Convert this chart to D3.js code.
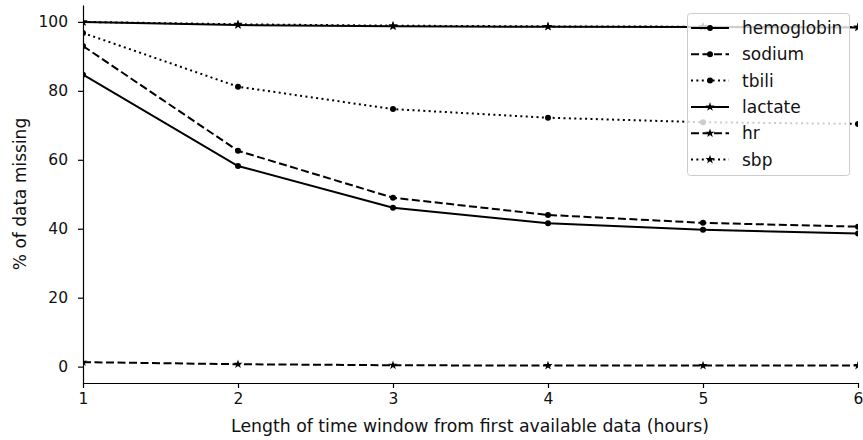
<!DOCTYPE html>
<html>
<head>
<meta charset="utf-8">
<script src="https://cdn.jsdelivr.net/npm/d3@7"></script>
<style>
  body { margin: 0; background: #fff; }
  svg { display: block; font-family: "DejaVu Sans", sans-serif; }
</style>
</head>
<body>
<div id="chart"></div>
<script>
// Data
const hours = [1, 2, 3, 4, 5, 6];
const hemoglobin = [84.7, 58.2, 46.1, 41.6, 39.7, 38.6];
const sodium = [93.0, 62.6, 49.0, 44.0, 41.7, 40.6];
const tbili = [96.8, 81.2, 74.7, 72.2, 70.9, 70.4];
const lactate = [100.0, 99.1, 98.7, 98.6, 98.5, 98.4];
const hr = [1.3, 0.7, 0.4, 0.3, 0.3, 0.3];
const sbp = [100.0, 99.3, 98.9, 98.7, 98.6, 98.5];
const xTicks = [1, 2, 3, 4, 5, 6];
const yTicks = [0, 20, 40, 60, 80, 100];

const seriesList = [
  { name: "hemoglobin", values: hemoglobin, dash: null, marker: "circle" },
  { name: "sodium", values: sodium, dash: "8,3.5", marker: "circle" },
  { name: "tbili", values: tbili, dash: "2,3.4", marker: "circle" },
  { name: "lactate", values: lactate, dash: null, marker: "star" },
  { name: "hr", values: hr, dash: "8,3.5", marker: "star" },
  { name: "sbp", values: sbp, dash: "2,3.4", marker: "star" },
];

const W = 863, H = 440;
const plot = { left: 83, right: 858, top: 5, bottom: 383 };

const svg = d3.select("#chart").append("svg")
  .attr("width", W).attr("height", H);

const x = d3.scaleLinear().domain([1, 6]).range([plot.left, plot.right]);
const y = d3.scaleLinear().domain([-4.75, 104.9]).range([plot.bottom, plot.top]);

svg.append("clipPath").attr("id", "clip")
  .append("rect")
  .attr("x", plot.left).attr("y", plot.top)
  .attr("width", plot.right - plot.left).attr("height", plot.bottom - plot.top);

const starPath = d3.symbol(d3.symbolStar, 26)();

function drawMarker(g, marker, cx, cy) {
  if (marker === "circle") {
    g.append("circle").attr("cx", cx).attr("cy", cy).attr("r", 3).attr("fill", "#000");
  } else {
    g.append("path").attr("d", starPath)
      .attr("transform", `translate(${cx},${cy})`).attr("fill", "#000");
  }
}

// Lines and markers
const linesG = svg.append("g").attr("clip-path", "url(#clip)");
const line = d3.line().x((d, i) => x(hours[i])).y(d => y(d));

seriesList.forEach(s => {
  const g = linesG.append("g");
  g.append("path")
    .attr("d", line(s.values))
    .attr("fill", "none").attr("stroke", "#000").attr("stroke-width", 2)
    .attr("stroke-dasharray", s.dash);
  s.values.forEach((v, i) => drawMarker(g, s.marker, x(hours[i]), y(v)));
});

// Axes
const xAxis = svg.append("g")
  .attr("transform", `translate(0,${plot.bottom})`)
  .call(d3.axisBottom(x).tickValues(xTicks).tickFormat(d3.format("d"))
    .tickSize(5).tickSizeOuter(0).tickPadding(5));
const yAxis = svg.append("g")
  .attr("transform", `translate(${plot.left},0)`)
  .call(d3.axisLeft(y).tickValues(yTicks).tickFormat(d3.format("d"))
    .tickSize(5).tickSizeOuter(0).tickPadding(10));

[xAxis, yAxis].forEach(a => {
  a.select(".domain").attr("stroke", "#000").attr("stroke-width", 1.2);
  a.selectAll(".tick line").attr("stroke", "#000").attr("stroke-width", 1.2);
  a.selectAll(".tick text")
    .attr("font-family", "DejaVu Sans").attr("font-size", 15.5).attr("fill", "#111");
});

// Axis labels
svg.append("text")
  .attr("x", (plot.left + plot.right) / 2 - 0.5).attr("y", 432)
  .attr("text-anchor", "middle").attr("font-size", 17.3).attr("fill", "#111")
  .text("Length of time window from first available data (hours)");

svg.append("text")
  .attr("transform", `translate(26,${(plot.top + plot.bottom) / 2}) rotate(-90)`)
  .attr("text-anchor", "middle").attr("font-size", 17).attr("fill", "#111")
  .text("% of data missing");

// Legend
const legend = svg.append("g");
legend.append("rect")
  .attr("x", 687.5).attr("y", 13.5).attr("width", 162).attr("height", 162).attr("rx", 3)
  .attr("fill", "#fff").attr("fill-opacity", 0.8)
  .attr("stroke", "#ccc").attr("stroke-width", 1);

seriesList.forEach((s, i) => {
  const cy = 28 + i * 26.3;
  legend.append("line")
    .attr("x1", 691).attr("x2", 729).attr("y1", cy).attr("y2", cy)
    .attr("stroke", "#000").attr("stroke-width", 2)
    .attr("stroke-dasharray", s.dash);
  drawMarker(legend, s.marker, 710, cy);
  legend.append("text")
    .attr("x", 742).attr("y", cy + 6)
    .attr("font-size", 17).attr("fill", "#111")
    .text(s.name);
});
</script>
</body>
</html>
